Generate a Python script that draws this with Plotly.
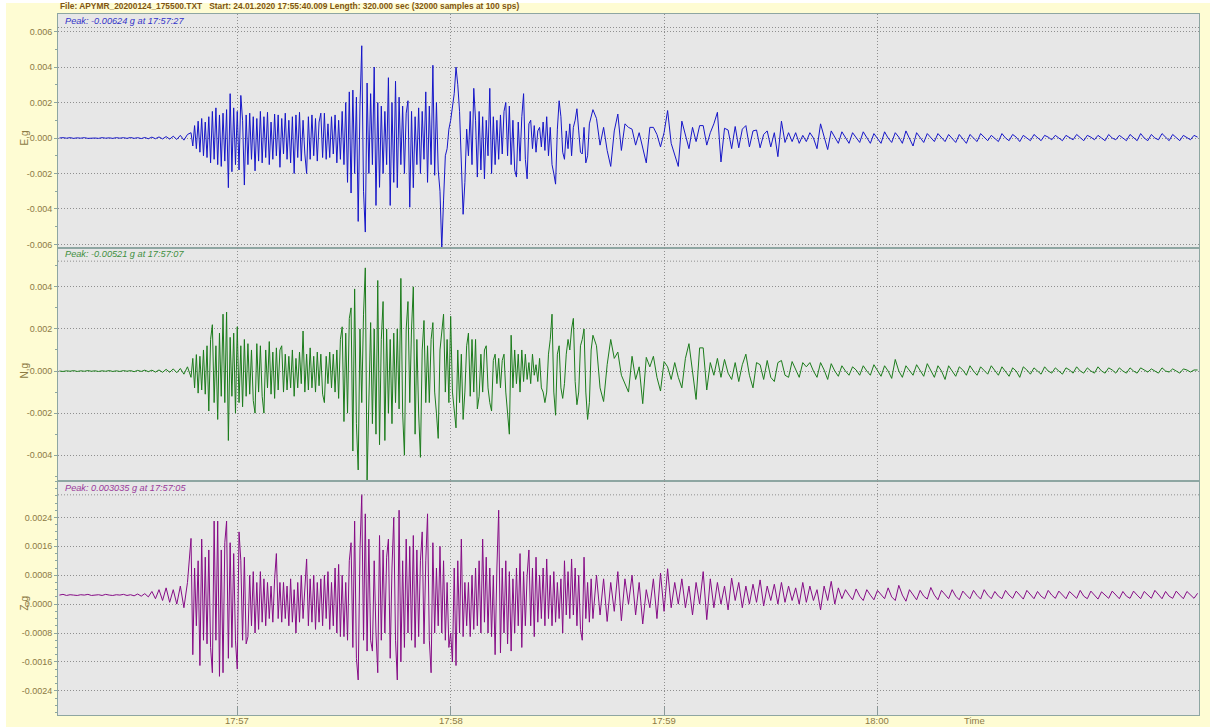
import numpy as np
import pandas as pd
import plotly.graph_objects as go
from plotly.subplots import make_subplots

# ---------------- data (values in 1e-5 g) ----------------
START = "2020-01-24 17:56:10"   # time of first sample shown at left edge
UNIT = 1e-5
PRE_STEP, MAIN_T0, MAIN_STEP, CODA_T0, CODA_STEP = 1.0, 37.0, 0.5, 151.0, 1.0

E_pre = [0, 2, -1, 2, -2, 1, -1, 2, -2, 1, 0, -2, 2, -1, 1, -2, 2, -1, 2, -2, 3, -2, 2, -3, 3, -4, 5,
         -4, 6, -5, 8, -6, 10, -8, 15, -12, 20]
E_main = [30, -45, 70, -60, 95, -80, 110, -100, 90, -110,
          120, -140, 150, -120, 170, -150, 130, -160, 140, -130,
          160, -280, 250, -190, 170, -150, 150, -180, 240, 100,
          -265, 130, -150, 140, -120, 120, -185, 110, -130, 150,
          -140, 120, -110, 145, -150, 90, -120, 135, -100, 130,
          -165, 110, -90, 140, -120, 100, -140, 120, -200, 130,
          -110, 145, -130, 100, -90, -200, 120, -120, 130, -100,
          110, -130, 90, 140, -110, 140, -120, 80, -110, 120,
          -90, 130, -140, 100, -120, 150, -150, 200, -250, 260,
          -310, 270, -200, 230, -470, 180, 520, -300, -530, 310,
          -200, 250, -150, 400, -380, 200, -278, 180, -200, 150,
          -150, 340, -380, 200, -250, 320, -280, 230, -150, 180,
          -200, 140, 210, -390, 150, -280, 120, -150, 170, -200,
          150, -120, 260, -250, 180, -150, 410, -210, 200, -180,
          -300, -624, -350, -100, -60, 50, 100, 170, 250, 400,
          300, 150, -100, -430, -250, 50, -100, 150, -150, 280,
          100, -220, 150, -180, 120, -230, 100, -100, 280, -200,
          120, -150, 100, -120, 130, -90, 150, 200, -100, 180,
          -150, 100, -180, -220, 90, -130, 120, 250, -120, -230,
          80, 100, -60, 70, -80, 40, 60, -50, 90, -70,
          120, -100, 60, -150, -200, -260, 50, 210, 120, -80,
          -120, 40, -60, 80, -100, 60, 100, 165, 40, -80,
          -90, 60, -140, -100, 80, 120, 160]
E_coda = [110, -40, 60, -70, -160, 40, 135, -70, 80, 60,
          50, -40, 30, -60, -140, 60, 60, 20, -50, 30,
          155, -30, -100, -160, 95, 20, -60, 60, -20, 70,
          70, -40, 30, 80, 145, -135, 55, 45, -60, 65,
          -55, 50, 70, -50, 40, 45, -55, 20, 40, -50,
          30, -105, 95, -25, 30, -20, 30, -30, 15, -20,
          30, 0, -60, 80, 10, -65, 40, 5, -30,
          35, 5, -30, 30, 0, -25, 35, 5, -30,
          25, 0, -30, 35, 0, -25, 30, 5, -30,
          40, 0, -45, 30, 5, -25, 25, 0, -20,
          25, 5, -20, 20, 0, -25, 20, -5, -30,
          20, 0, -20, 25, 5, -15, 15, 0, -20,
          25, 0, -15, 20, 5, -20, 15, 0, -15,
          20, 0, -15, 15, 5, -10, 15, 0, -15,
          15, 0, -10, 20, 0, -15, 15, 5, -10,
          15, 0, -15, 20, 0, -10, 15, 0, -15,
          20, 5, -15, 25, 0, -15, 20, 0, -10,
          25, 5, -15, 20, 0, -15, 15, 0, -10,
          15, 5]

N_pre = [0, -2, 1, -1, 2, -2, 1, -1, 2, -1, 1, -2, 1, -1, 2, -2, 1, -2, 2, -1, 2, -3, 3, -2, 4,
         -3, 4, -5, 5, -6, 8, -6, 10, -8, 12, -15, 20]
N_main = [-30, 60, -80, 78, -105, 70, -90, 100, -110, 120,
          -190, 150, 220, -150, 120, -230, 180, -120, 270, -150,
          280, -330, 160, -120, 180, -200, 210, -150, 120, -170,
          150, -120, 130, -110, 100, -140, -200, 130, -100, 120,
          -120, -200, 100, -80, 140, -110, 90, -130, 110, -90,
          100, 120, -100, 80, -90, 70, -80, 100, -120, 60,
          -80, 90, -60, 190, -100, 80, -90, 110, -80, 70,
          -100, 90, -70, 80, -110, -150, 70, -60, 90, -80,
          80, -100, 100, -130, 150, 210, -240, 180, -200, 250,
          300, -380, 390, -250, -470, 200, -150, 270, 490, -521,
          -200, 230, -250, 200, -300, 430, -350, 150, 330, -330,
          200, -200, 150, -250, 180, -150, 200, -180, 440, -200,
          -400, 200, 330, -150, 200, 400, -300, 150, -200, -410,
          100, 240, -150, 120, -150, 150, 230, -100, -200, -320,
          100, 200, 270, -100, 150, -150, 260, -100, -200, -270,
          100, -150, 80, -230, -100, 120, 180, -120, 150, -100,
          150, -180, -120, 80, -100, 100, 120, -80, -150, -190,
          50, 80, -60, 60, -80, 50, 80, -100, -200, -300,
          170, -80, 100, -60, 80, -100, 100, -50, 80, -40,
          40, -60, 80, -20, 30, -50, 60, -80, -100, -150,
          -100, 80, 150, 270, -100, -210, 80, 120, -80, -130,
          -60, 80, 150, 100, 200, 250, -50, -160, -100, 120,
          150, 200, -100, -230, -150, 100, 170]
N_coda = [120, -80, -145, 30, 150, 60, 90, -20, -60, -100,
          70, -40, 20, -155, 65, 20, 70, -30, -95, 45,
          20, -40, 40, -30, -80, 60, 130, 0, -135, 110,
          110, -90, 40, -20, 60, -30, 55, -10, -40, 40,
          -50, 30, 80, -20, -80, 40, 30, -40, 50, -30,
          -50, 40, 50, -20, -30, 45, 10, -30, 40, 20,
          40, 0, -30, 40, 5, -40, 35, 0, -25,
          25, 0, -20, 20, 5, -20, 25, 0, -20,
          30, 0, -25, 25, 0, -35, 55, 0, -30,
          25, 0, -20, 30, 5, -25, 35, 0, -30,
          25, 0, -40, 25, 0, -25, 20, 5, -20,
          25, 0, -20, 20, 0, -15, 25, 5, -20,
          20, 0, -25, 15, 0, -30, 20, 5, -15,
          15, 0, -15, 20, 0, -10, 15, 0, -15,
          15, 5, -10, 20, 0, -10, 15, 0, -10,
          20, 0, -10, 15, 5, -10, 15, 0, -10,
          15, 0, -10, 15, 5, -5, 10, 0, -10,
          15, 0, -5, 10, 0, -10, 10, 5, -5,
          5, 5]

Z_pre = [25, 27, 24, 26, 25, 24, 26, 25, 27, 24, 25, 26, 24, 27, 25, 24, 26, 25, 27, 24, 26, 23,
         28, 22, 29, 20, 35, 15, 40, 10, 45, 5, 40, 0, 50, -10, 60]
Z_main = [182, -140, 100, -60, 120, -170, 180, -100, 130, -110,
          150, -120, -190, 230, -100, 230, -200, 150, -190, 170,
          230, -150, 170, -120, 140, -100, -180, 200, 120, -100,
          130, -110, -90, 80, -60, 90, -80, 60, -70, 90,
          -50, 70, -60, 60, -40, 50, -50, 70, 140, -40,
          60, -50, 60, -40, 50, -60, 70, -50, 40, -80,
          60, -50, 80, -40, 60, 125, -60, 70, -50, 80,
          -70, 60, -50, 70, -60, 80, -40, 90, -70, 60,
          -60, 100, -80, 110, -90, 80, -90, 60, -100, 120,
          170, -120, 230, -150, -210, 150, 303.5, -100, 250, -130,
          180, -100, -130, 120, -80, -190, 190, -100, 150, -80,
          130, 180, -150, 100, 240, -100, -210, 260, -160, 120,
          -120, 180, -80, 160, -100, 190, -120, 150, -90, 120,
          200, -110, 120, 250, -100, -190, 170, -80, 100, -60,
          160, -80, 120, -100, 60, -120, -80, -160, 100, -170,
          120, -80, 180, -90, 60, -60, 60, -90, 80, -70,
          100, -60, 120, -80, 180, -50, 130, -80, 100, -90,
          80, -140, 100, 260, -135, 100, -80, 120, -110, 90,
          -130, 70, -80, 100, -60, 140, -120, 90, -60, 80,
          150, -60, 100, -90, 130, -50, 80, -40, 100, -60,
          125, -40, 80, -60, 90, -50, 60, -40, 70, -80,
          120, -30, 90, -40, 125, -30, 100, -60, 80, -70,
          -100, 130, -40, 60, -50, 70, -40]
Z_coda = [80, -30, 70, -48, 60, -20, 90, -46, 70, 0,
          80, -30, 60, -55, 40, -10, 70, -40, 86, -20,
          98, -10, 60, 0, 70, -10, 50, -30, 60, 0,
          90, -43, 70, -10, 60, 0, 50, -16, 72, 10,
          60, -10, 50, 0, 55, 5, 67, -5, 50, 10,
          55, 0, 60, 5, 50, 10, 45, 0, 60, 5,
          50, 10, 40, -16, 50, 10, 63, 0, 45, 15,
          40, 25, 12, 42, 22, 10, 40, 25, 12,
          38, 25, 15, 45, 20, 10, 52, 25, 8,
          40, 25, 12, 38, 22, 14, 46, 25, 12,
          38, 25, 15, 40, 22, 12, 36, 25, 15,
          38, 24, 14, 40, 25, 15, 35, 22, 15,
          38, 25, 16, 36, 24, 14, 38, 25, 15,
          35, 22, 15, 38, 25, 16, 36, 24, 15,
          35, 25, 16, 38, 22, 15, 36, 25, 14,
          34, 24, 16, 36, 25, 15, 35, 22, 16,
          36, 25, 15, 35, 24, 16, 38, 25, 15,
          35, 22, 16, 36, 25, 15, 35, 24, 16,
          30]

channels = ["E", "N", "Z"]
axis_titles = ["E,g", "N,g", "Z,g"]
peak_texts = ["Peak: -0.00624 g at 17:57:27", "Peak: -0.00521 g at 17:57:07",
              "Peak: 0.003035 g at 17:57:05"]
y_ranges = [[-0.00618, 0.00699], [-0.00524, 0.00586], [-0.00307, 0.0034]]
y_tickvals = [[-0.006, -0.004, -0.002, 0.0, 0.002, 0.004, 0.006],
              [-0.004, -0.002, 0.0, 0.002, 0.004],
              [-0.0024, -0.0016, -0.0008, 0.0, 0.0008, 0.0016, 0.0024]]
y_ticktext = [["-0.006", "-0.004", "-0.002", "0.000", "0.002", "0.004", "0.006"],
              ["-0.004", "-0.002", "0.000", "0.002", "0.004"],
              ["-0.0024", "-0.0016", "-0.0008", "0.0000", "0.0008", "0.0016", "0.0024"]]
y_minor = [0.001, 0.001, 0.0002]
x_tickvals = ["2020-01-24 17:57:00", "2020-01-24 17:58:00", "2020-01-24 17:59:00", "2020-01-24 18:00:00"]
x_ticktext = ["17:57", "17:58", "17:59", "18:00"]
x_range = ["2020-01-24 17:56:09.6", "2020-01-24 18:01:30.4"]
title_text = ("File: APYMR_20200124_175500.TXT   Start: 24.01.2020 17:55:40.009 "
              "Length: 320.000 sec (32000 samples at 100 sps)")

# ---------------- styling ----------------
line_colors = ["#1616c8", "#1c7c1c", "#860c86"]
peak_colors = ["#3434c8", "#3f8f3f", "#9a3a9a"]
TXT = "#8c7a44"
FONT = "Liberation Sans, Arial, sans-serif"
FRAME = "#8ea6a2"
GRID = "#8f8f8f"
DOT = "1px,2px"

W, H = 1216, 727
L, R, T, B = 58, 17, 14, 12
PW, PH = W - L - R, H - T - B


def px_x(px):
    return (px - L) / PW


def px_y(py):
    return (H - B - py) / PH


def series(pre, main, coda):
    t = np.concatenate([np.arange(len(pre)) * PRE_STEP,
                        MAIN_T0 + MAIN_STEP * np.arange(len(main)),
                        CODA_T0 + CODA_STEP * np.arange(len(coda))])
    v = np.concatenate([np.asarray(pre, float), np.asarray(main, float), np.asarray(coda, float)])
    x = pd.Timestamp(START) + pd.to_timedelta(t, unit="s")
    return x, v * UNIT


data = [(E_pre, E_main, E_coda), (N_pre, N_main, N_coda), (Z_pre, Z_main, Z_coda)]

fig = make_subplots(rows=3, cols=1, shared_xaxes=True, vertical_spacing=0)

for i, (pre, main, coda) in enumerate(data):
    x, v = series(pre, main, coda)
    fig.add_trace(go.Scatter(x=x, y=v, mode="lines", name=channels[i],
                             line=dict(color=line_colors[i], width=1),
                             hoverinfo="skip", showlegend=False), row=i + 1, col=1)
    fig.update_yaxes(row=i + 1, col=1, range=y_ranges[i], tickmode="array",
                     tickvals=y_tickvals[i], ticktext=y_ticktext[i],
                     ticks="outside", ticklen=3, tickcolor=FRAME,
                     minor=dict(tickmode="linear", tick0=0, dtick=y_minor[i], ticks="outside",
                                ticklen=2, tickcolor=FRAME, showgrid=False),
                     showgrid=True, gridcolor=GRID, griddash=DOT, gridwidth=1,
                     zeroline=False, showline=True, linecolor=FRAME, linewidth=1, mirror=True,
                     tickfont=dict(family=FONT, size=9, color=TXT), automargin=False)
    fig.update_xaxes(row=i + 1, col=1, type="date", range=x_range, tickmode="array",
                     tickvals=x_tickvals, ticktext=x_ticktext,
                     showgrid=True, gridcolor=GRID, griddash=DOT, gridwidth=1,
                     zeroline=False, showline=True, linecolor=FRAME, linewidth=1, mirror=True,
                     ticks="inside" if i == 2 else "", ticklen=8, tickcolor="#8a9a9a",
                     showticklabels=False, automargin=False)

annotations = []
panel_tops = [T + k * PH / 3 for k in range(3)]
zero_rows = [138, 371, 604]
for i in range(3):
    annotations.append(dict(text=peak_texts[i], xref="paper", yref="paper",
                            x=px_x(63), y=px_y(panel_tops[i] + 6.5), xanchor="left", yanchor="middle",
                            showarrow=False,
                            font=dict(family=FONT, size=9.2, color=peak_colors[i], style="italic")))
    annotations.append(dict(text=axis_titles[i], xref="paper", yref="paper",
                            x=px_x(16), y=px_y(zero_rows[i]), xanchor="left", yanchor="middle",
                            textangle=-90, showarrow=False,
                            font=dict(family=FONT, size=10, color=TXT)))
for tv, tt in zip(x_tickvals, x_ticktext):
    annotations.append(dict(text=tt, xref="x3", yref="paper", x=tv, y=px_y(720.5),
                            xanchor="center", yanchor="middle", showarrow=False,
                            font=dict(family=FONT, size=9.5, color=TXT)))
annotations.append(dict(text=title_text, xref="paper", yref="paper", x=0, y=px_y(6.5),
                        xanchor="left", yanchor="middle", showarrow=False,
                        font=dict(family=FONT, size=8.4, color="#7e5412", weight="bold")))
annotations.append(dict(text="Time", xref="paper", yref="paper", x=px_x(962), y=px_y(720.5),
                        xanchor="left", yanchor="middle", showarrow=False,
                        font=dict(family=FONT, size=9.5, color=TXT)))

shapes = [
    dict(type="rect", xref="paper", yref="paper", x0=px_x(0), x1=px_x(6), y0=px_y(727), y1=px_y(0),
         fillcolor="white", line=dict(width=0), layer="below"),
    dict(type="rect", xref="paper", yref="paper", x0=px_x(1210), x1=px_x(1216), y0=px_y(727), y1=px_y(0),
         fillcolor="white", line=dict(width=0), layer="below"),
    dict(type="rect", xref="paper", yref="paper", x0=px_x(0), x1=px_x(1216), y0=px_y(3), y1=px_y(0),
         fillcolor="white", line=dict(width=0), layer="below"),
]
for top in panel_tops:
    shapes.append(dict(type="line", xref="paper", yref="paper", x0=0, x1=1,
                       y0=px_y(top + 13.5), y1=px_y(top + 13.5),
                       line=dict(color=GRID, width=1, dash=DOT)))

fig.update_layout(width=W, height=H, autosize=False,
                  margin=dict(l=L, r=R, t=T, b=B, pad=0),
                  paper_bgcolor="#fefcd3", plot_bgcolor="#e7e7e7",
                  annotations=annotations, shapes=shapes, showlegend=False,
                  font=dict(family=FONT, size=10, color=TXT))

fig.write_html("out.html", config={"displayModeBar": False},
               post_script="document.body.style.margin='0';document.body.style.overflow='hidden';")
